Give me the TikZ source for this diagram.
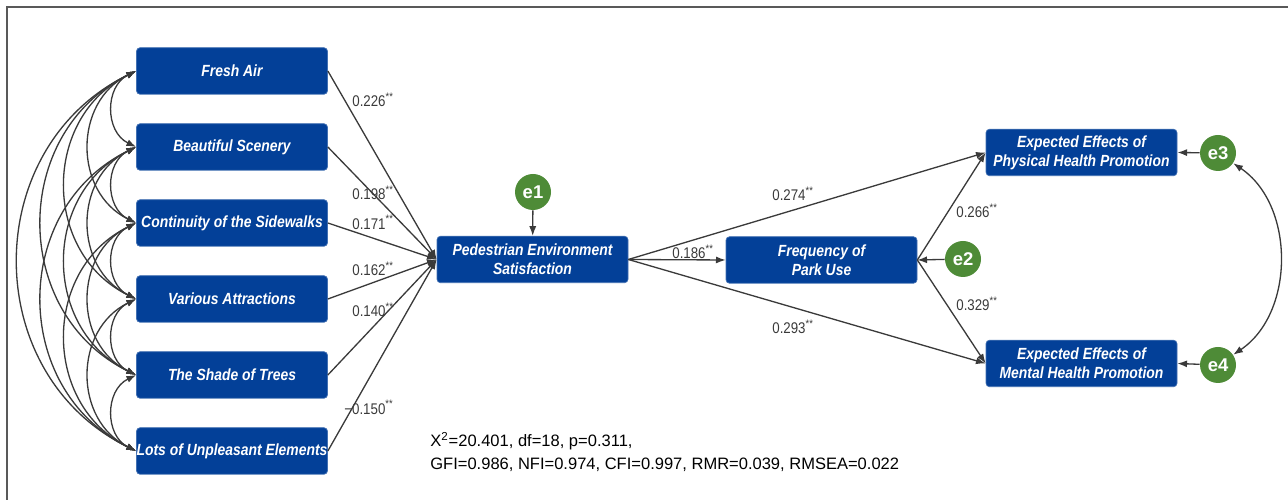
\documentclass[tikz,border=0pt]{standalone}
\usepackage{fontspec}
\setmainfont{Liberation Sans}
\newfontfamily\narrowfont[FakeStretch=0.86]{Liberation Sans}
\usetikzlibrary{arrows.meta}
\definecolor{semblue}{HTML}{034098}
\definecolor{errgreen}{HTML}{4E8B37}
\definecolor{pathgray}{HTML}{3A3A3A}

\begin{document}
\begin{tikzpicture}
    \tikzstyle{var} = [fill=semblue, draw=semblue!75!white, rounded corners=2pt, text=white, minimum width=3.82cm, minimum height=0.93cm, inner sep=0pt, align=center, font=\narrowfont\bfseries\itshape\fontsize{9.2}{11}\selectfont]
    \tikzstyle{err} = [circle, fill=errgreen, text=white, minimum size=0.72cm, inner sep=0pt, font=\bfseries\fontsize{10.5}{12}\selectfont]
    \tikzstyle{link} = [draw=pathgray, line width=0.75pt, >={Latex[length=5.5pt,width=4pt]}]
    \tikzstyle{cov} = [link, <->, bend right=64, looseness=1.18]
    \tikzstyle{coef} = [anchor=west, inner sep=0pt, text=pathgray, font=\narrowfont\fontsize{8.8}{10}\selectfont]
    \useasboundingbox (0, 0) rectangle (25.76, 10);
    \draw[line width=1.1pt, color=black!65] (0.14, 0) -- (0.14, 9.86) -- (25.76, 9.86);
    % exogenous variables
    \node[var] (fresh) at (4.64, 8.58) {Fresh Air};
    \node[var] (scenery) at (4.64, 7.06) {Beautiful Scenery};
    \node[var] (sidewalk) at (4.64, 5.54) {Continuity of the Sidewalks};
    \node[var] (attract) at (4.64, 4.02) {Various Attractions};
    \node[var] (shade) at (4.64, 2.50) {The Shade of Trees};
    \node[var] (unpleasant) at (4.64, 0.98) {Lots of Unpleasant Elements};
    % endogenous variables
    \node[var] (ped) at (10.65, 4.81) {Pedestrian Environment\\Satisfaction};
    \node[var] (freq) at (16.43, 4.80) {Frequency of\\Park Use};
    \node[var] (phys) at (21.63, 6.95) {Expected Effects of\\Physical Health Promotion};
    \node[var] (ment) at (21.63, 2.73) {Expected Effects of\\Mental Health Promotion};
    \node[err] (e1) at (10.66, 6.16) {e1};
    \node[err] (e2) at (19.26, 4.82) {e2};
    \node[err] (e3) at (24.36, 6.94) {e3};
    \node[err] (e4) at (24.36, 2.70) {e4};
    % covariances
    \draw[cov] (fresh.west) to (scenery.west);
    \draw[cov] (fresh.west) to (sidewalk.west);
    \draw[cov] (fresh.west) to (attract.west);
    \draw[cov] (fresh.west) to (shade.west);
    \draw[cov] (fresh.west) to (unpleasant.west);
    \draw[cov] (scenery.west) to (sidewalk.west);
    \draw[cov] (scenery.west) to (attract.west);
    \draw[cov] (scenery.west) to (shade.west);
    \draw[cov] (scenery.west) to (unpleasant.west);
    \draw[cov] (sidewalk.west) to (attract.west);
    \draw[cov] (sidewalk.west) to (shade.west);
    \draw[cov] (sidewalk.west) to (unpleasant.west);
    \draw[cov] (attract.west) to (shade.west);
    \draw[cov] (attract.west) to (unpleasant.west);
    \draw[cov] (shade.west) to (unpleasant.west);
    \draw[link, <->] (e3) to[bend left=56] (e4);
    % paths
    \draw[link, ->] (fresh.east) -- (ped.west);
    \draw[link, ->] (scenery.east) -- (ped.west);
    \draw[link, ->] (sidewalk.east) -- (ped.west);
    \draw[link, ->] (attract.east) -- (ped.west);
    \draw[link, ->] (shade.east) -- (ped.west);
    \draw[link, ->] (unpleasant.east) -- (ped.west);
    \draw[link, ->] (e1) -- (ped);
    \draw[link, ->] (ped.east) -- (phys.west);
    \draw[link, ->] (ped.east) -- (freq.west);
    \draw[link, ->] (ped.east) -- (ment.west);
    \draw[link, ->] (freq.east) -- (phys.west);
    \draw[link, ->] (freq.east) -- (ment.west);
    \draw[link, ->] (e2) -- (freq.east);
    \draw[link, ->] (e3) -- (phys.east);
    \draw[link, ->] (e4) -- (ment.east);
    % coefficients
    \node[coef] (c1) at (7.04, 8.00) {0.226\textsuperscript{**}};
    \node[coef] (c2) at (7.04, 6.14) {0.198\textsuperscript{**}};
    \node[coef] (c3) at (7.04, 5.55) {0.171\textsuperscript{**}};
    \node[coef] (c4) at (7.04, 4.62) {0.162\textsuperscript{**}};
    \node[coef] (c5) at (7.04, 3.80) {0.140\textsuperscript{**}};
    \node[coef] (c6) at (6.88, 1.86) {−0.150\textsuperscript{**}};
    \node[coef] (c7) at (15.44, 6.12) {0.274\textsuperscript{**}};
    \node[coef] (c8) at (13.44, 4.96) {0.186\textsuperscript{**}};
    \node[coef] (c9) at (15.44, 3.46) {0.293\textsuperscript{**}};
    \node[coef] (c10) at (19.12, 5.78) {0.266\textsuperscript{**}};
    \node[coef] (c11) at (19.12, 3.92) {0.329\textsuperscript{**}};
    % fit indices
    \node[anchor=west, align=left, inner sep=0pt, font=\fontsize{9.4}{13}\selectfont] (fit) at (8.6, 0.96) {X\textsuperscript{2}=20.401, df=18, p=0.311,\\GFI=0.986, NFI=0.974, CFI=0.997, RMR=0.039, RMSEA=0.022};
\end{tikzpicture}
\end{document}
